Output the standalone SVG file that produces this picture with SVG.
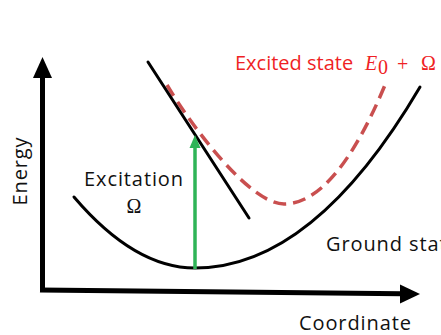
<svg xmlns="http://www.w3.org/2000/svg" width="441" height="335" viewBox="0 0 441 335">
  <style>
    .lbl { font-family: "Open Sans", "Liberation Sans", sans-serif; font-size: 20px; fill: #111; letter-spacing: 0.9px; }
    .math { font-family: "Liberation Serif", "DejaVu Serif", serif; letter-spacing: 0; }
    .axis { stroke: #000; stroke-width: 5; fill: none; }
    .curve { stroke: #000; stroke-width: 3; fill: none; stroke-linecap: round; }
    .excited { stroke: #c94f4f; stroke-width: 3.5; fill: none; stroke-dasharray: 13 7; }
    .red { fill: #ef1f25; }
  </style>
  <rect width="441" height="335" fill="#fff"/>
  <g id="axes">
    <line class="axis" x1="42.5" y1="292" x2="42.5" y2="75"/>
    <polygon points="42.5,57 33,78 52,78" fill="#000"/>
    <line class="axis" x1="40" y1="290" x2="402" y2="293.8"/>
    <polygon points="420,294 400,284.5 400,303.5" fill="#000"/>
  </g>
  <g id="ground-curve">
    <path class="curve" d="M74,197 Q134.5,268 195,268 C270,268 345,214.5 420,87"/>
  </g>
  <g id="excited-curve">
    <path class="excited" d="M167,85 C192,127 250,204 284,204 C318,204 352,164 385,85"/>
  </g>
  <g id="tangent">
    <line class="curve" x1="148" y1="62" x2="249" y2="218"/>
  </g>
  <g id="connectors">
    <line x1="195" y1="269" x2="195" y2="146" stroke="#2fb457" stroke-width="3.5"/>
    <polygon points="195,135 189.5,148 200.5,148" fill="#2fb457"/>
  </g>
  <g id="labels">
    <text class="lbl" transform="translate(27,171) rotate(-90)" text-anchor="middle">Energy</text>
    <text class="lbl" x="134" y="186" text-anchor="middle">Excitation</text>
    <text class="lbl math" x="134" y="213" text-anchor="middle">Ω</text>
    <text class="lbl" x="326" y="251">Ground state</text>
    <text class="lbl" x="299" y="330">Coordinate</text>
    <text class="lbl red" x="235" y="69.5" style="letter-spacing:0">Excited state</text>
    <text class="lbl math red" x="365" y="69.5" font-style="italic">E</text>
    <text class="lbl math red" x="378" y="74" font-size="14">0</text>
    <text class="lbl math red" x="397" y="71" font-size="26">+</text>
    <text class="lbl math red" x="421" y="69.5">Ω</text>
  </g>
</svg>
